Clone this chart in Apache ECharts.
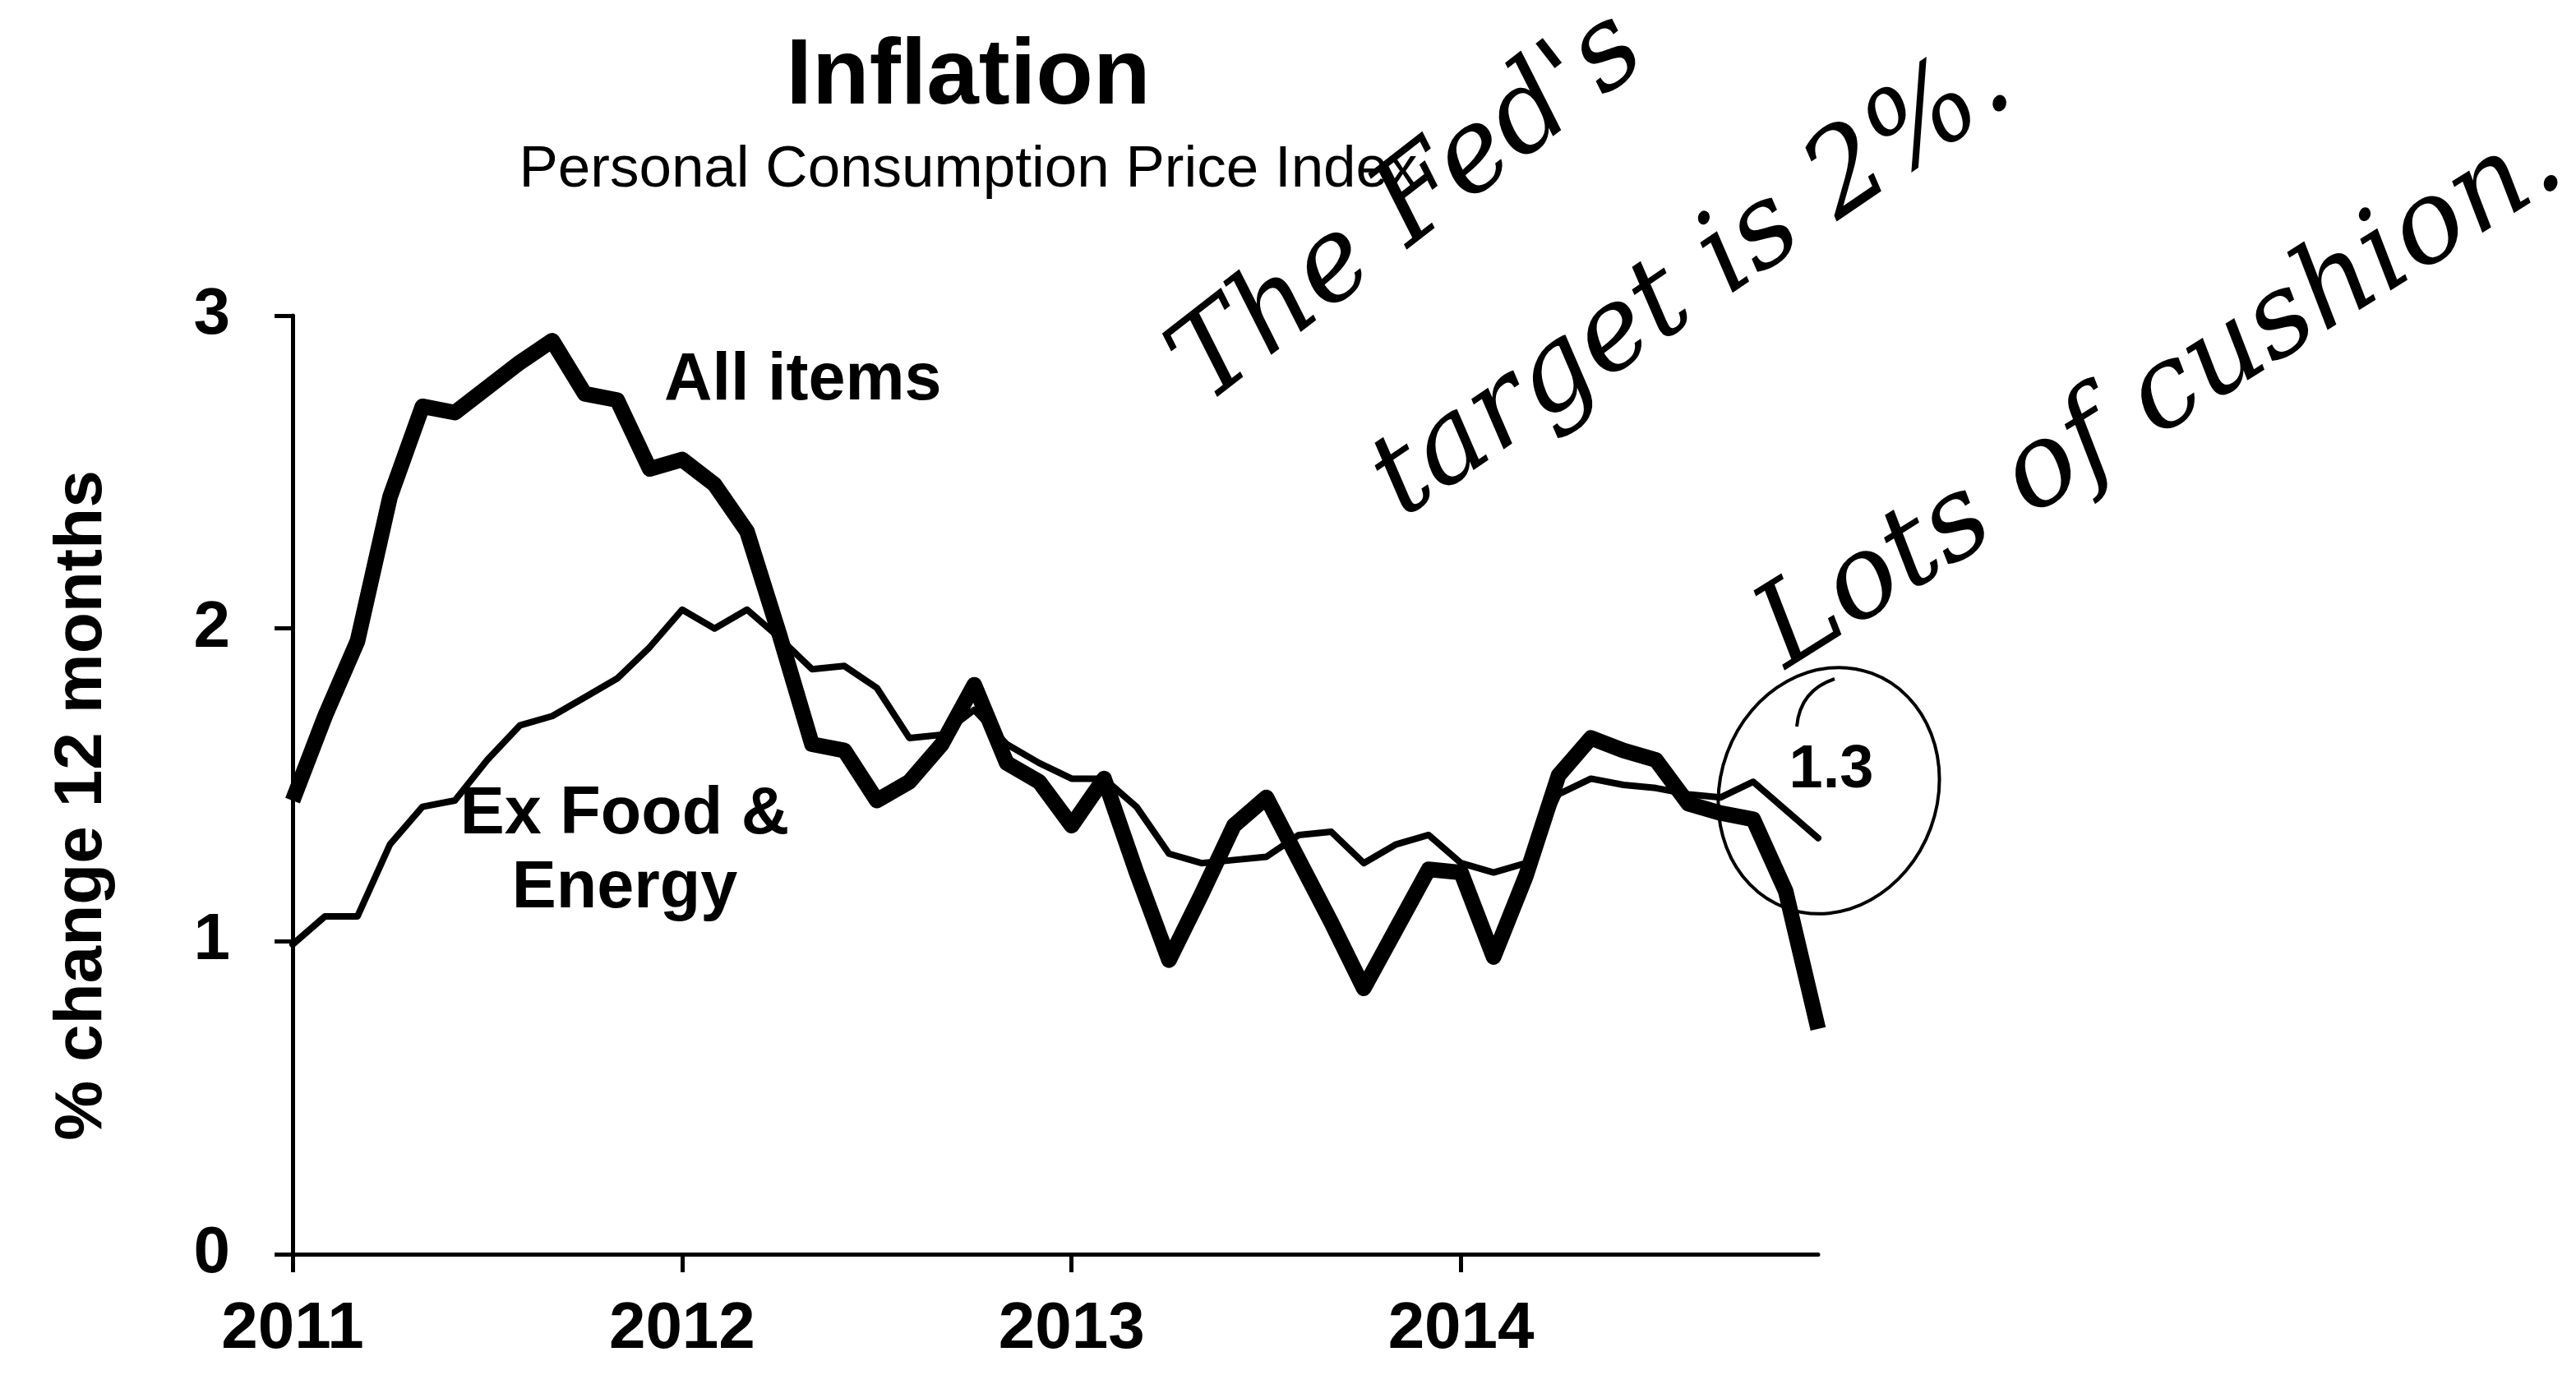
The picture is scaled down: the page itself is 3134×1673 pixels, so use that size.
<!DOCTYPE html>
<html>
<head>
<meta charset="utf-8">
<script src="https://cdn.jsdelivr.net/npm/echarts@6/dist/echarts.min.js"></script>
<style>
html,body{margin:0;padding:0;background:#fff;}
#chart{width:3134px;height:1673px;}
</style>
</head>
<body>
<div id="chart"></div>
<script>
// Monthly, Jan 2011 .. Dec 2014
const years = ['2011', '2012', '2013', '2014'];
const months = [];
years.forEach(y => { for (let m = 1; m <= 12; m++) months.push(y + '-' + (m < 10 ? '0' + m : m)); });

const allItems = [1.45, 1.72, 1.96, 2.42, 2.71, 2.69, 2.77, 2.85, 2.92, 2.75, 2.73, 2.51,
                  2.54, 2.46, 2.31, 1.98, 1.63, 1.61, 1.45, 1.51, 1.63, 1.82, 1.57, 1.51,
                  1.37, 1.52, 1.22, 0.94, 1.15, 1.37, 1.46, 1.26, 1.06, 0.85, 1.04, 1.23,
                  1.22, 0.95, 1.21, 1.53, 1.65, 1.61, 1.58, 1.44, 1.41, 1.39, 1.16, 0.72];
const exFoodEnergy = [0.99, 1.08, 1.08, 1.31, 1.43, 1.45, 1.58, 1.69, 1.72, 1.78, 1.84, 1.94,
                      2.06, 2.00, 2.06, 1.97, 1.87, 1.88, 1.81, 1.65, 1.66, 1.74, 1.63, 1.57,
                      1.52, 1.52, 1.43, 1.28, 1.25, 1.26, 1.27, 1.34, 1.35, 1.25, 1.31, 1.34,
                      1.25, 1.22, 1.25, 1.47, 1.52, 1.50, 1.49, 1.47, 1.46, 1.51, 1.42, 1.33];
const yTicks = [0, 1, 2, 3];

const F = 'Liberation Sans, Arial, sans-serif';
const HAND = 'DejaVu Serif, serif';

const chart = echarts.init(document.getElementById('chart'));
chart.setOption({
  backgroundColor: '#fff',
  animation: false,
  grid: { left: 356, top: 384, width: 1856, height: 1142, containLabel: false },
  xAxis: {
    type: 'category',
    data: months,
    boundaryGap: false,
    axisLine: { show: true, lineStyle: { color: '#000', width: 5 } },
    axisTick: { show: true, length: 22, lineStyle: { color: '#000', width: 5 },
                interval: (i) => i % 12 === 0 },
    axisLabel: { show: true, margin: 52, color: '#000', fontFamily: F, fontWeight: 'bold', fontSize: 80,
                 interval: (i) => i % 12 === 0,
                 formatter: (v) => v.slice(0, 4) },
    splitLine: { show: false }
  },
  yAxis: {
    type: 'value',
    min: 0, max: 3, interval: 1,
    axisLine: { show: true, lineStyle: { color: '#000', width: 5 } },
    axisTick: { show: true, length: 22, lineStyle: { color: '#000', width: 5 } },
    axisLabel: { margin: 76, color: '#000', fontFamily: F, fontWeight: 'bold', fontSize: 80,
                 formatter: (v) => yTicks.indexOf(v) >= 0 ? String(v) : '' },
    splitLine: { show: false }
  },
  series: [
    { name: 'Ex Food & Energy', type: 'line', data: exFoodEnergy, symbol: 'none',
      lineStyle: { color: '#000', width: 8, join: 'round', cap: 'round' } },
    { name: 'All items', type: 'line', data: allItems, symbol: 'none',
      lineStyle: { color: '#000', width: 19, join: 'round', cap: 'butt' } }
  ],
  graphic: [
    { type: 'text', x: 1178, y: 95, style: { text: 'Inflation', fontFamily: F, fontWeight: 'bold', fontSize: 114, fill: '#000', align: 'center', verticalAlign: 'middle' } },
    { type: 'text', x: 1178, y: 207, style: { text: 'Personal Consumption Price Index', fontFamily: F, fontSize: 71, fill: '#000', align: 'center', verticalAlign: 'middle' } },
    { type: 'text', x: 100, y: 980, rotation: Math.PI / 2, style: { text: '% change 12 months', fontFamily: F, fontWeight: 'bold', fontSize: 82, fill: '#000', align: 'center', verticalAlign: 'middle' } },
    { type: 'text', x: 808, y: 464, style: { text: 'All items', fontFamily: F, fontWeight: 'bold', fontSize: 81, fill: '#000', align: 'left', verticalAlign: 'middle' } },
    { type: 'text', x: 760, y: 992, style: { text: 'Ex Food &', fontFamily: F, fontWeight: 'bold', fontSize: 81, fill: '#000', align: 'center', verticalAlign: 'middle' } },
    { type: 'text', x: 760, y: 1082, style: { text: 'Energy', fontFamily: F, fontWeight: 'bold', fontSize: 81, fill: '#000', align: 'center', verticalAlign: 'middle' } },
    { type: 'text', x: 2228, y: 938, style: { text: '1.3', fontFamily: F, fontWeight: 'bold', fontSize: 74, fill: '#000', align: 'center', verticalAlign: 'middle' } },
    { type: 'ellipse', x: 2225, y: 962, rotation: -0.35, shape: { cx: 0, cy: 0, rx: 132, ry: 152 }, style: { fill: 'none', stroke: '#000', lineWidth: 4 } },
    { type: 'bezierCurve', shape: { x1: 2232, y1: 826, x2: 2186, y2: 884, cpx1: 2190, cpy1: 840 }, style: { fill: 'none', stroke: '#000', lineWidth: 4 } },
    { type: 'text', x: 1715, y: 255, rotation: 0.66, style: { text: "The Fed's", fontFamily: HAND, fontStyle: 'italic', fontSize: 140, fill: '#000', align: 'center', verticalAlign: 'middle' } },
    { type: 'text', x: 2060, y: 345, rotation: 0.6, style: { text: 'target is 2%.', fontFamily: HAND, fontStyle: 'italic', fontSize: 140, fill: '#000', align: 'center', verticalAlign: 'middle' } },
    { type: 'text', x: 2630, y: 485, rotation: 0.56, style: { text: 'Lots of cushion.', fontFamily: HAND, fontStyle: 'italic', fontSize: 140, fill: '#000', align: 'center', verticalAlign: 'middle' } }
  ]
});
</script>
</body>
</html>
